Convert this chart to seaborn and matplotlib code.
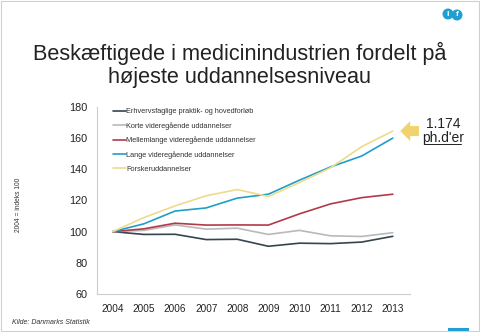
import numpy as np
import pandas as pd
import matplotlib
matplotlib.use("Agg")
import matplotlib.pyplot as plt
import seaborn as sns
from matplotlib.lines import Line2D
from matplotlib.patches import Rectangle, Ellipse

years = [2004, 2005, 2006, 2007, 2008, 2009, 2010, 2011, 2012, 2013]
series_names = [
    "Erhvervsfaglige praktik- og hovedforløb",
    "Korte videregående uddannelser",
    "Mellemlange videregående uddannelser",
    "Lange videregående uddannelser",
    "Forskeruddannelser",
]
erhverv = [100, 98.2, 98.3, 94.9, 95.1, 90.6, 92.6, 92.3, 93.3, 97.0]
korte = [100, 100.8, 104.3, 101.6, 102.2, 98.2, 100.8, 97.3, 96.9, 99.3]
mellem = [100, 101.8, 105.4, 104.2, 104.3, 104.2, 111.4, 117.8, 121.8, 124.0]
lange = [100, 105.0, 113.2, 115.2, 121.5, 124.0, 133.0, 141.5, 148.5, 160.0]
forsker = [100, 109.0, 116.5, 123.0, 127.0, 122.5, 131.5, 141.0, 154.5, 164.5]
colors = ["#34454d", "#b9b9b9", "#b13a4a", "#1e9ec8", "#eedb8c"]
yticks = [60, 80, 100, 120, 140, 160, 180]

title = "Beskæftigede i medicinindustrien fordelt på\nhøjeste uddannelsesniveau"
ylabel = "2004 = indeks 100"
source = "Kilde: Danmarks Statistik"
annot_num = "1.174"
annot_txt = "ph.d'er"

df = pd.DataFrame({"År": years})
for name, vals in zip(series_names, [erhverv, korte, mellem, lange, forsker]):
    df[name] = vals
long = df.melt(id_vars="År", var_name="Uddannelse", value_name="Indeks")

sns.set_theme(style="white")
plt.rcParams["font.family"] = ["Liberation Sans", "DejaVu Sans"]

fig = plt.figure(figsize=(4.8, 3.32), dpi=100)
ax = fig.add_axes([0.202, 0.1145, 0.652, 0.5635])

sns.lineplot(data=long, x="År", y="Indeks", hue="Uddannelse",
             hue_order=series_names, palette=colors, linewidth=1.2, ax=ax)

ax.set_xlim(2003.49, 2013.55)
ax.set_ylim(60, 180)
ax.set_xticks(years)
ax.set_xticklabels([str(y) for y in years], fontsize=7.2, color="#222222")
ax.set_yticks(yticks)
ax.set_yticklabels([str(y) for y in yticks], fontsize=7.8, color="#222222")
ax.tick_params(axis="both", length=0)
ax.tick_params(axis="y", pad=7)
ax.tick_params(axis="x", pad=7)
ax.set_xlabel("")
ax.set_ylabel("")
for s in ["top", "right"]:
    ax.spines[s].set_visible(False)
for s in ["left", "bottom"]:
    ax.spines[s].set_color("#cccccc")
    ax.spines[s].set_linewidth(0.8)

leg = ax.legend(loc="upper left", bbox_to_anchor=(0.042, 1.009), frameon=False,
                fontsize=5.3, handlelength=1.75, handletextpad=0.05,
                labelspacing=0.93, borderaxespad=0)
for t in leg.get_texts():
    t.set_color("#333333")

fig.text(0.038, 0.383, ylabel, rotation=90, fontsize=4.8, color="#333333",
         ha="center", va="center")
fig.text(0.5, 0.804, title, ha="center", va="center", fontsize=15.6,
         color="#222222", linespacing=1.13)
fig.text(0.024, 0.03, source, fontsize=5, style="italic", color="#333333",
         ha="left", va="center")

# arrow annotation
ax.annotate("", xy=(2013.15, forsker[-1]), xytext=(2013.93, forsker[-1]),
            xycoords="data", textcoords="data", annotation_clip=False,
            arrowprops=dict(arrowstyle="simple,head_length=0.6,head_width=1.2,tail_width=0.6",
                            color="#f0d36e", lw=0))
fig.text(0.923, 0.626, annot_num, fontsize=10, ha="center", va="center", color="#222222")
fig.text(0.923, 0.584, annot_txt, fontsize=10, ha="center", va="center", color="#222222")
fig.add_artist(Line2D([0.884, 0.961], [0.566, 0.566], color="#222222", lw=0.7,
                      transform=fig.transFigure))

# logo and decorations
for cx, cy, ch in [(448, 14, "l"), (457, 15, "f")]:
    fig.add_artist(Ellipse((cx / 480, 1 - cy / 332), 11 / 480, 11 / 332,
                           transform=fig.transFigure, color="#1ea0d0", lw=0))
    fig.text(cx / 480, 1 - cy / 332, ch, fontsize=6, fontweight="bold", color="white",
             ha="center", va="center")
fig.add_artist(Rectangle((0.933, 0.0), 0.045, 0.012, transform=fig.transFigure,
                         color="#1ea0d0", lw=0))
fig.add_artist(Rectangle((0.002, 0.003), 0.996, 0.994, transform=fig.transFigure,
                         fill=False, edgecolor="#d0d0d0", lw=0.8))

fig.savefig("out.png", dpi=100)
